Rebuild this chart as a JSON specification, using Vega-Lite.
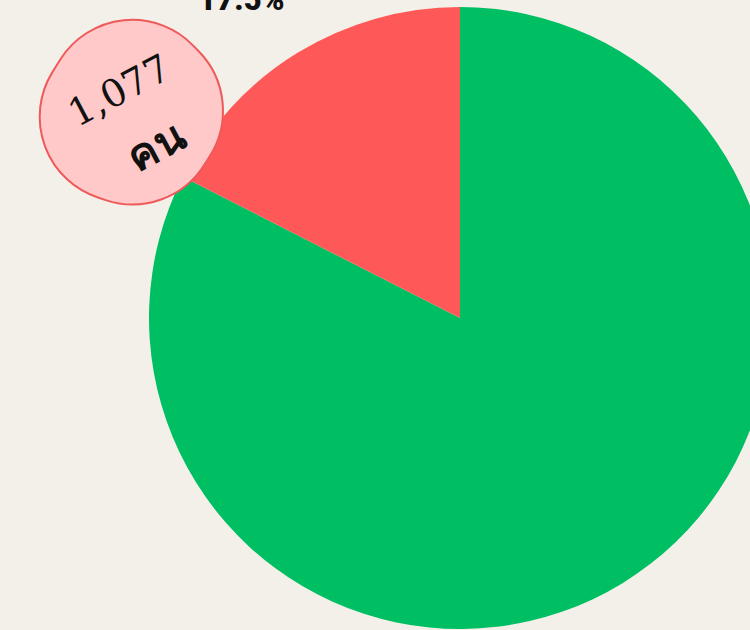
{
  "$schema": "https://vega.github.io/schema/vega-lite/v6.json",
  "width": 622,
  "height": 622,
  "autosize": {"type": "none"},
  "padding": {"left": 149, "top": 7, "right": 0, "bottom": 1},
  "background": "#f3f0ea",
  "config": {"view": {"stroke": null}},
  "data": {"values": [
    {"group": "others", "value": 5077},
    {"group": "selected", "value": 1077}
  ]},
  "transform": [
    {"joinaggregate": [{"op": "sum", "field": "value", "as": "total"}]},
    {"calculate": "datum.value / datum.total", "as": "share"},
    {"stack": "value", "groupby": [], "sort": [{"field": "value", "order": "descending"}], "as": ["v0", "v1"]}
  ],
  "encoding": {
    "theta": {"field": "v0", "type": "quantitative", "scale": {"domain": [0, 6154], "zero": true, "nice": false}},
    "theta2": {"field": "v1"},
    "color": {
      "field": "group", "type": "nominal",
      "scale": {"domain": ["others", "selected"], "range": ["#00bf63", "#ff5858"]},
      "legend": null
    }
  },
  "layer": [
    {"mark": {"type": "arc", "stroke": null}},
    {
      "transform": [{"filter": "datum.group === 'selected'"}],
      "mark": {"type": "arc", "radius": 476, "radius2": 298, "thetaOffset": -0.15, "theta2Offset": -0.775,
               "cornerRadius": 85, "stroke": "#ee5a5a", "strokeWidth": 2},
      "encoding": {
        "fill": {"value": "#ffc9c9"}
      }
    },
    {
      "transform": [{"filter": "datum.group === 'selected'"}],
      "mark": {"type": "text", "radius": 408, "thetaOffset": 0.115, "angle": 332,
               "font": "DejaVu Serif", "fontSize": 38, "align": "center", "baseline": "middle"},
      "encoding": {
        "text": {"field": "value", "type": "quantitative", "format": ","},
        "fill": {"value": "#111111"}
      }
    },
    {
      "transform": [{"filter": "datum.group === 'selected'"}],
      "mark": {"type": "text", "radius": 348, "thetaOffset": 0.04, "angle": 332, "text": "คน",
               "fontSize": 43, "fontWeight": "bold", "align": "center", "baseline": "middle"},
      "encoding": {
        "fill": {"value": "#111111"}
      }
    },
    {
      "transform": [{"filter": "datum.group === 'selected'"}],
      "mark": {"type": "text", "radius": 385, "thetaOffset": 0.496,
               "font": "Roboto", "fontSize": 31, "fontWeight": 900, "align": "center", "baseline": "middle"},
      "encoding": {
        "text": {"field": "share", "type": "quantitative", "format": ".1%"},
        "fill": {"value": "#111111"}
      }
    }
  ]
}
